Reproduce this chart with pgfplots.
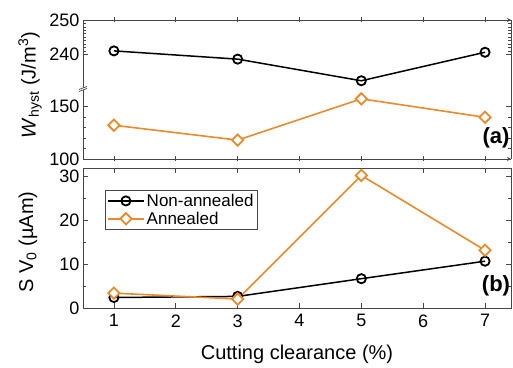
\documentclass[border=0pt]{standalone}
\usepackage{pgfplots}
\pgfplotsset{compat=1.18}
\usepackage{fontspec}
\setmainfont{Liberation Sans}
\definecolor{myorange}{RGB}{233,139,42}
\definecolor{axgray}{RGB}{70,70,70}

\pgfplotsset{
  base/.style={
    scale only axis, width=428pt,
    xmin=0.5, xmax=7.42,
    xtick={1,2,3,4,5,6,7},
    tick align=inside,
    major tick length=5pt, minor tick length=3pt,
    tick style={line width=0.7pt, color=axgray},
    axis line style={line width=0.8pt, axgray, -},
    /pgf/number format/assume math mode=true,
    tick label style={font=\fontsize{18}{20}\selectfont},
    xticklabel style={yshift=-3pt},
    clip=false,
  },
  blk/.style={black, line width=1.5pt, mark=o, mark size=4.6pt,
    mark options={line width=1.8pt, solid, fill=white}},
  org/.style={myorange, line width=1.6pt, mark=square*, mark size=4.0pt,
    mark options={rotate=45, line width=1.8pt, solid, fill=white}},
}

\begin{document}
\begin{tikzpicture}
\useasboundingbox (0,0) rectangle (513pt,367pt);

% ---------- panel (a), upper segment ----------
\begin{axis}[base, at={(83pt,278pt)}, anchor=south west, height=69pt,
  separate axis lines, axis x line=top, axis y line=box,
  xticklabels={},
  ymin=229.9, ymax=250, ytick={240,250}, minor y tick num=9]
\addplot[blk] coordinates {(1,241.0) (3,238.6) (5,232.3) (7,240.6)};
\end{axis}

% ---------- panel (a), lower segment ----------
\begin{axis}[base, at={(83pt,208pt)}, anchor=south west, height=70pt,
  separate axis lines, axis x line=bottom, axis y line=box,
  xticklabels={},
  ymin=100, ymax=167, ytick={100,150}, minor y tick num=4]
\addplot[org] coordinates {(1,132.3) (3,118.1) (5,157.6) (7,139.9)};
\end{axis}

% ---------- panel (b) ----------
\begin{axis}[base, at={(83pt,59pt)}, anchor=south west, height=140pt,
  ymin=0, ymax=32, ytick={0,10,20,30}, minor y tick num=1,
  legend style={at={(0.051,0.845)}, anchor=north west,
    font=\fontsize{17}{19}\selectfont, draw=axgray, line width=0.6pt,
    inner xsep=2pt, inner ysep=2pt, row sep=0pt, legend cell align=left},
  legend image code/.code={
    \draw[mark repeat=2, mark phase=2, #1] plot coordinates {(0pt,0pt) (18pt,0pt) (36pt,0pt)};
  }]
\addplot[blk] coordinates {(1,2.4) (3,2.65) (5,6.7) (7,10.7)};
\addlegendentry{Non-annealed}
\addplot[org] coordinates {(1,3.4) (3,2.05) (5,30.3) (7,13.2)};
\addlegendentry{Annealed}
\end{axis}

% axis break mark
\fill[white] (79pt,275.5pt) -- (87pt,278.5pt) -- (87pt,280.5pt) -- (79pt,277.5pt) -- cycle;
\draw[axgray, line width=0.7pt] (79pt,275.5pt) -- (87pt,278.5pt);
\draw[axgray, line width=0.7pt] (79pt,277.5pt) -- (87pt,280.5pt);

% labels
\node[rotate=90] at (30pt,282pt) {\fontsize{20}{22}\selectfont\textit{W}\textsubscript{hyst} (J/m\textsuperscript{3})};
\node[rotate=90] at (28pt,125pt) {\fontsize{20}{22}\selectfont S V\textsubscript{0} (µAm)};
\node at (297pt,13pt) {\fontsize{20}{22}\selectfont Cutting clearance (\%)};
\node at (496pt,229pt) {\bfseries\fontsize{22}{24}\selectfont (a)};
\node at (496pt,81pt) {\bfseries\fontsize{22}{24}\selectfont (b)};
\end{tikzpicture}
\end{document}
